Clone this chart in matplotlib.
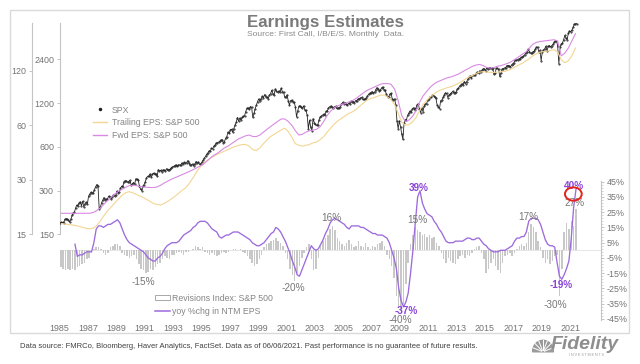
import numpy as np
import matplotlib
matplotlib.use("Agg")
import matplotlib.pyplot as plt
from matplotlib.lines import Line2D
from matplotlib.patches import Rectangle, Ellipse, Patch, Wedge
from matplotlib.ticker import FixedLocator, NullLocator
from matplotlib import font_manager

plt.rcParams['font.family'] = ['Liberation Sans', 'DejaVu Sans']

# ---------------- data ----------------
# S&P 500 monthly level, Jan 1985 .. Jun 2021
spx = [
    180, 181, 181, 180, 190, 192, 191, 188, 182, 190, 202, 211,          # 1985
    212, 227, 238, 236, 247, 251, 236, 253, 231, 244, 249, 242,          # 1986
    274, 284, 291, 288, 290, 304, 319, 330, 322, 225, 230, 247,          # 1987
    257, 268, 259, 261, 262, 274, 272, 262, 272, 279, 274, 278,          # 1988
    297, 289, 295, 310, 321, 318, 346, 351, 349, 341, 346, 353,          # 1989
    329, 332, 340, 331, 361, 358, 356, 323, 306, 300, 322, 330,          # 1990
    344, 367, 375, 375, 390, 371, 388, 395, 388, 392, 375, 417,          # 1991
    409, 413, 404, 415, 415, 408, 424, 414, 418, 419, 431, 436,          # 1992
    439, 443, 452, 440, 450, 451, 448, 464, 459, 468, 462, 466,          # 1993
    482, 467, 446, 451, 457, 444, 458, 475, 463, 472, 454, 459,          # 1994
    470, 487, 501, 515, 533, 545, 562, 562, 584, 582, 605, 616,          # 1995
    636, 640, 646, 654, 669, 671, 640, 652, 687, 705, 757, 741,          # 1996
    786, 791, 757, 801, 848, 885, 954, 899, 947, 915, 955, 970,          # 1997
    980, 1049, 1102, 1112, 1091, 1134, 1121, 957, 1017, 1099, 1164, 1229,  # 1998
    1280, 1238, 1286, 1335, 1302, 1373, 1329, 1320, 1283, 1363, 1389, 1469,  # 1999
    1394, 1366, 1499, 1452, 1421, 1455, 1431, 1518, 1437, 1429, 1315, 1320,  # 2000
    1366, 1240, 1160, 1249, 1256, 1224, 1211, 1134, 966, 1060, 1139, 1148,   # 2001
    1130, 1107, 1147, 1077, 1067, 990, 797, 916, 815, 776, 936, 880,         # 2002
    856, 841, 848, 917, 964, 975, 990, 1008, 996, 1051, 1058, 1112,          # 2003
    1131, 1145, 1126, 1107, 1121, 1141, 1102, 1104, 1115, 1130, 1174, 1212,  # 2004
    1181, 1204, 1181, 1157, 1192, 1191, 1234, 1220, 1229, 1207, 1249, 1248,  # 2005
    1280, 1281, 1295, 1311, 1270, 1270, 1277, 1304, 1336, 1378, 1401, 1418,  # 2006
    1438, 1407, 1421, 1482, 1531, 1503, 1455, 1474, 1527, 1549, 1481, 1468,  # 2007
    1379, 1331, 1323, 1386, 1400, 1280, 1267, 1283, 1165, 900, 800, 903,     # 2008
    826, 735, 676, 873, 919, 919, 987, 1021, 1057, 1036, 1096, 1115,         # 2009
    1074, 1104, 1169, 1187, 1089, 1031, 1102, 1049, 1141, 1183, 1181, 1258,  # 2010
    1286, 1327, 1326, 1364, 1345, 1321, 1292, 1160, 1131, 1099, 1247, 1258,  # 2011
    1312, 1366, 1408, 1398, 1310, 1362, 1379, 1407, 1441, 1412, 1416, 1426,  # 2012
    1498, 1515, 1569, 1598, 1631, 1606, 1686, 1633, 1682, 1757, 1806, 1848,  # 2013
    1783, 1859, 1872, 1884, 1924, 1960, 1931, 2003, 1972, 2018, 2068, 2059,  # 2014
    1995, 2105, 2068, 2086, 2107, 2063, 2104, 1893, 1920, 2079, 2080, 2044,  # 2015
    1829, 1932, 2060, 2065, 2097, 2099, 2174, 2171, 2168, 2126, 2199, 2239,  # 2016
    2279, 2364, 2363, 2384, 2412, 2423, 2470, 2472, 2519, 2575, 2648, 2674,  # 2017
    2824, 2714, 2641, 2648, 2705, 2718, 2816, 2902, 2914, 2712, 2760, 2351,  # 2018
    2704, 2784, 2834, 2946, 2752, 2942, 2980, 2926, 2977, 3038, 3141, 3231,  # 2019
    3226, 2954, 2237, 2912, 3044, 3100, 3271, 3500, 3363, 3270, 3622, 3756,  # 2020
    3714, 3811, 3973, 4181, 4204, 4230,                                      # 2021
]

# Trailing EPS (quarterly, 1985Q1 .. 2021Q2)
trailing_eps = [
    17.2, 17.1, 17.0, 16.9,  16.8, 16.6, 16.4, 16.2,  16.1, 16.2, 16.8, 17.8,
    19.0, 20.2, 21.2, 22.3,  23.4, 24.5, 25.4, 25.8,  25.5, 25.0, 24.5, 24.0,
    23.4, 22.8, 22.2, 21.9,  21.8, 22.2, 22.8, 23.5,  24.3, 25.2, 26.2, 27.0,
    28.5, 30.5, 32.8, 35.0,  36.8, 38.2, 39.5, 40.5,  41.5, 42.3, 43.2, 44.0,
    45.0, 45.8, 46.5, 47.0,  47.0, 46.0, 44.0, 43.5,  45.0, 47.5, 49.8, 52.0,
    53.5, 55.0, 56.5, 57.8,  55.5, 51.5, 47.5, 46.5,  46.0, 46.5, 47.0, 48.0,
    48.5, 50.0, 52.0, 55.0,  58.0, 61.0, 63.5, 65.5,  67.5, 69.5, 71.0, 73.0,
    76.0, 79.0, 82.0, 84.0,  85.0, 86.5, 88.0, 88.0,  86.0, 83.0, 78.0, 70.0,
    62.5, 60.0, 60.5, 62.5,  66.0, 72.0, 78.0, 82.0,  86.0, 89.0, 92.0, 94.0,
    95.5, 97.0, 98.0, 100.0, 102.0, 105.0, 108.0, 111.0, 113.0, 116.0, 118.0, 118.5,
    118.0, 117.5, 117.5, 118.0, 118.5, 119.0, 120.5, 123.0, 126.0, 129.0, 132.0, 136.0,
    140.0, 145.0, 149.0, 152.0, 153.0, 154.0, 155.0, 157.0, 152.0, 138.0, 133.0, 136.0,
    145.0, 160.0,
]

# Forward EPS (quarterly, 1985Q1 .. 2021Q2)
forward_eps = [
    19.6, 19.6, 19.6, 19.6,  19.6, 19.6, 19.6, 19.6,  19.6, 19.8, 20.3, 21.0,
    22.0, 23.0, 24.0, 25.0,  25.8, 26.5, 27.2, 27.8,  28.0, 27.9, 27.6, 27.4,
    27.3, 27.2, 27.2, 27.4,  28.0, 28.8, 29.5, 30.2,  30.8, 31.4, 32.0, 32.6,
    33.3, 34.0, 34.8, 35.6,  36.5, 38.0, 39.5, 41.0,  42.0, 43.5, 45.0, 46.0,
    47.5, 49.0, 50.5, 51.5,  52.5, 53.0, 52.0, 52.0,  53.0, 55.0, 57.0, 59.0,
    61.0, 63.0, 65.0, 65.0,  63.0, 60.0, 56.0, 53.0,  53.5, 55.0, 56.0, 56.5,
    57.0, 59.0, 63.0, 68.0,  72.0, 75.0, 77.0, 78.0,  79.0, 80.5, 82.0, 84.0,
    87.0, 90.0, 93.0, 95.0,  97.0, 99.0, 101.0, 102.0, 102.0, 101.0, 95.0, 82.0,
    68.0, 63.0, 64.0, 67.0,  72.0, 80.0, 87.0, 92.0,  97.0, 101.0, 104.0, 106.0,
    108.0, 110.0, 111.0, 113.0, 115.0, 118.0, 121.0, 124.0, 127.0, 129.0, 130.0, 128.0,
    125.0, 124.0, 125.0, 127.0, 128.0, 130.0, 132.0, 135.0, 139.0, 143.0, 148.0, 152.0,
    160.0, 168.0, 172.0, 174.0, 175.0, 176.0, 177.0, 178.0, 175.0, 145.0, 150.0, 160.0,
    175.0, 192.0,
]

# Revisions index S&P 500 (%), two-month steps, 1985 .. mid 2021
revisions = [
    -11, -12, -13, -12, -13, -12,   -13, -11, -10, -9, -8, -6,
    -5, -2, 1, 2, 2, 1,             -2, -3, -2, 2, 3, 4,
    4, 3, -2, -3, -4, -5,           -4, -3, -6, -9, -12, -13,
    -15, -14, -12, -13, -11, -9,    -8, -6, -4, -5, -6, -3,
    -3, -2, -1, -2, -3, -1,         -1, 0, 1, 3, 2, 1,
    2, -1, -2, -3, -2, -3,          -4, -3, -2, -1, -2, -1,
    0, 1, 1, 0, 1, -1,              -2, -4, -6, -8, -10, -9,
    -6, -3, 2, 4, 5, 6,             7, 8, 6, 5, 3, -2,
    -6, -12, -16, -20, -15, -10,    -5, -2, 2, 4, -6, -13,
    -12, -5, 3, 6, 8, 10,           14, 16, 13, 8, 6, 4,
    3, 5, 7, 4, 2, 3,               6, 3, 2, 5, 2, 1,
    3, 2, 4, 5, 6, 3,               -3, -6, -10, -18, -30, -38,
    -40, -35, -22, -8, 4, 10,       15, 13, 12, 10, 11, 9,
    10, 8, 9, 5, 3, -2,             -6, -8, -5, -7, -8, -9,
    -6, -4, -3, -5, -3, -4,         -2, 1, 2, 3, -2, -6,
    -15, -12, -8, -6, -10, -13,     -15, -8, -4, -3, -2, -4,
    -2, 1, 3, 4, 3, 5,              12, 17, 15, 12, 6, 2,
    -5, -8, -6, -9, -7, -4,         -3, -30, -12, 12, 18, 14,
    19, 16, 27,
]

# yoy % chg in NTM EPS, two-month steps, 1986 .. mid 2021
yoy_ntm = [
    4, -4, -3, -3, -2, -1,          -1, -1, 5, 14, 16, 16,
    15, 16, 17, 17, 18, 19,         20, 18, 14, 10, 7, 5,
    4, 3, 2, 1, 0, -1,              -3, -5, -6, -7, -7, -5,
    -4, -2, 1, 3, 4, 5,             5, 5, 6, 8, 10, 11,
    12, 13, 15, 16, 18, 19,         19, 19, 18, 16, 14, 13,
    12, 9, 8, 9, 10, 10,            11, 12, 12, 12, 11, 10,
    9, 8, 7, 5, 4, 3,               3, 4, 5, 7, 9, 11,
    12, 15, 14, 12, 9, 6,           2, -2, -7, -11, -16, -17,
    -13, -9, -5, -1, 3, 1,          0, 1, 4, 7, 11, 14,
    18, 20, 21, 20, 19, 18,         17, 15, 14, 16, 16, 16,
    16, 15, 15, 14, 13, 12,         11, 11, 10, 10, 10, 9,
    8, 5, 0, -5, -12, -25,          -33, -37, -34, -28, -15, 0,
    18, 35, 39, 31, 27, 24,         23, 22, 19, 17, 14, 12,
    9, 6, 5, 5, 5, 6,               6, 6, 6, 7, 8, 8,
    7, 7, 8, 8, 6, 4,               3, 1, 0, -1, -1, -1,
    0, 0, 0, 1, 2, 3,               6, 8, 8, 9, 9, 12,
    19, 21, 21, 21, 20, 17,         12, 7, 4, 3, 3, 2,
    -8, -17, -19, -16, -12, -7,     8, 28, 40,
]

year_ticks = list(range(1985, 2022, 2))
spx_ticks = [150, 300, 600, 1200, 2400]
eps_ticks = [15, 30, 60, 120]
pct_ticks = [-45, -35, -25, -15, -5, 5, 15, 25, 35, 45]

# annotation labels: (year, pct, text, kind)
notes = [
    (1990.9, -20.6, "-15%", "g"), (2001.5, -24.9, "-20%", "g"),
    (2004.2, 21.0, "16%", "g"), (2009.0, -45.5, "-40%", "g"),
    (2009.45, -39.8, "-37%", "p"), (2010.35, 40.6, "39%", "p"),
    (2010.25, 19.9, "15%", "g"), (2018.05, 21.6, "17%", "g"),
    (2020.4, -22.7, "-19%", "p"), (2019.96, -35.9, "-30%", "g"),
    (2021.25, 41.9, "40%", "p"), (2021.3, 30.8, "27%", "g"),
]

# dates (decimal years)
spx_x = 1985 + (np.arange(len(spx)) + 0.5) / 12
eps_x = 1985 + (np.arange(len(trailing_eps)) + 0.5) / 4
rev_x = 1985 + (np.arange(len(revisions)) + 0.5) / 6
yoy_x = 1986 + (np.arange(len(yoy_ntm)) + 0.5) / 6

# ---------------- figure ----------------
W, H = 640, 364
fig = plt.figure(figsize=(W / 100, H / 100), dpi=100)
fig.patch.set_facecolor("white")

def fx(p):
    return p / W

def fy(p):
    return 1 - p / H

L, R, T, B = 59.6, 601.0, 23.0, 320.0
ax = fig.add_axes([fx(L), fy(B), fx(R) - fx(L), fy(T) - fy(B)])
ax.patch.set_alpha(0)
ax_eps = ax.twinx()
ax_pct = ax.twinx()

GRAYTXT = "#737373"
SPINE = "#c4c4c4"
PURPLE = "#9d6bdc"
FWD = "#d98ae4"
TRAIL = "#f3d692"

# SPX (log)
ax.plot(spx_x, spx, color="#262626", lw=0.6, marker=".", ms=1.0, zorder=3)
ax.set_yscale("log")
ax.set_ylim(38.55, 4266)
ax.set_xlim(1985.0, 2023.18)
ax.yaxis.set_major_locator(FixedLocator(spx_ticks))
ax.yaxis.set_minor_locator(NullLocator())
ax.set_yticklabels([str(t) for t in spx_ticks])
for s in ("top", "right", "bottom"):
    ax.spines[s].set_visible(False)
ax.spines["left"].set_color(SPINE)
ax.spines["left"].set_linewidth(0.8)
ax.spines["left"].set_bounds(150, 4266)
ax.tick_params(axis="y", length=2.5, width=0.7, color=SPINE, labelcolor=GRAYTXT,
               labelsize=6.4, pad=1.5)
ax.set_xticks(year_ticks)
ax.set_xticklabels([str(y) for y in year_ticks])
ax.tick_params(axis="x", length=0, labelcolor=GRAYTXT, labelsize=6.4, pad=2.8)

# EPS (log), spine moved left
ax_eps.plot(eps_x, trailing_eps, color=TRAIL, lw=0.8, zorder=2)
ax_eps.plot(eps_x, forward_eps, color=FWD, lw=0.8, zorder=2)
ax_eps.set_yscale("log")
ax_eps.set_ylim(5.05, 220.1)
ax_eps.yaxis.set_ticks_position("left")
ax_eps.yaxis.set_label_position("left")
ax_eps.yaxis.set_major_locator(FixedLocator(eps_ticks))
ax_eps.yaxis.set_minor_locator(NullLocator())
ax_eps.set_yticklabels([str(t) for t in eps_ticks])
for s in ("top", "right", "bottom"):
    ax_eps.spines[s].set_visible(False)
ax_eps.spines["left"].set_visible(True)
ax_eps.spines["left"].set_position(("axes", -(L - 32.0) / (R - L)))
ax_eps.spines["left"].set_color(SPINE)
ax_eps.spines["left"].set_linewidth(0.8)
ax_eps.spines["left"].set_bounds(15, 220.1)
ax_eps.tick_params(axis="y", length=2.5, width=0.7, color=SPINE, labelcolor=GRAYTXT,
                   labelsize=6.4, pad=1.5)

# Percent axis (right)
ax_pct.bar(rev_x, revisions, width=0.105, color="#c8c8c8", edgecolor="none", zorder=1)
ax_pct.axhline(0, color="#e2e2e2", lw=0.6, zorder=0)
ax_pct.plot(yoy_x, yoy_ntm, color=PURPLE, lw=0.95, zorder=3)
ax_pct.set_ylim(-45.69, 149.0)
ax_pct.yaxis.set_major_locator(FixedLocator(pct_ticks))
ax_pct.yaxis.set_minor_locator(FixedLocator(list(range(-45, 46, 2))))
ax_pct.set_yticklabels([f"{t}%" for t in pct_ticks])
for s in ("top", "left", "bottom"):
    ax_pct.spines[s].set_visible(False)
ax_pct.spines["right"].set_color(SPINE)
ax_pct.spines["right"].set_linewidth(0.8)
ax_pct.spines["right"].set_bounds(-45.5, 45.5)
ax_pct.tick_params(axis="y", which="major", length=2.3, width=0.7, color=SPINE,
                   labelcolor=GRAYTXT, labelsize=6.4, pad=1.8)
ax_pct.tick_params(axis="y", which="minor", length=1.2, width=0.5, color=SPINE)

for (xv, yv, txt, kind) in notes:
    if kind == "p":
        ax_pct.text(xv, yv, txt, color="#8a44d8", fontsize=7.2, fontweight="bold",
                    ha="center", va="center", zorder=5)
    else:
        ax_pct.text(xv, yv, txt, color="#777777", fontsize=7.2,
                    ha="center", va="center", zorder=4)

ax_pct.add_patch(Ellipse((2021.23, 36.9), 1.18, 8.7, fill=False, ec="#e3231b",
                         lw=1.4, zorder=6))

# legends
leg1_handles = [
    Line2D([], [], ls="none", marker=".", color="#222222", ms=3),
    Line2D([], [], color=TRAIL, lw=1.0),
    Line2D([], [], color=FWD, lw=1.0),
]
fig.legend(leg1_handles, ["SPX", "Trailing EPS: S&P 500", "Fwd EPS: S&P 500"],
           loc="upper left", bbox_to_anchor=(fx(93), fy(105.5)), frameon=False,
           fontsize=6.3, handlelength=1.6, handletextpad=0.55, labelspacing=0.42,
           borderpad=0, borderaxespad=0, labelcolor="#858585")

leg2_handles = [
    Patch(facecolor="white", edgecolor="#9a9a9a", lw=0.6),
    Line2D([], [], color=PURPLE, lw=1.1),
]
fig.legend(leg2_handles, ["Revisions Index: S&P 500", "yoy %chg in NTM EPS"],
           loc="upper left", bbox_to_anchor=(fx(155), fy(293.8)), frameon=False,
           fontsize=6.3, handlelength=1.75, handleheight=0.5, handletextpad=0.25,
           labelspacing=0.45, borderpad=0, borderaxespad=0, labelcolor="#858585")

# titles
fig.text(fx(325.5), fy(22), "Earnings Estimates", ha="center", va="center",
         fontsize=12.2, fontweight="bold", color="#7a7a7a")
fig.text(fx(325.5), fy(34.5), "Source: First Call, I/B/E/S. Monthly  Data.",
         ha="center", va="center", fontsize=6.1, color="#8a8a8a")

# frame
fig.add_artist(Rectangle((fx(10), fy(333)), fx(629) - fx(10), fy(10) - fy(333),
                         transform=fig.transFigure, fill=False, ec="#dadada", lw=1.0))

# footer
names = {f.name for f in font_manager.fontManager.ttflist}
if "Liberation Sans Narrow" in names:
    foot_family, foot_size = "Liberation Sans Narrow", 6.6
else:
    foot_family, foot_size = "Liberation Sans", 5.5
fig.text(fx(20), fy(346.5),
         "Data source: FMRCo, Bloomberg, Haver Analytics, FactSet. Data as of 06/06/2021. "
         "Past performance is no guarantee of future results.",
         ha="left", va="center", fontsize=foot_size, family=foot_family, color="#404040")

# Fidelity logo
lax = fig.add_axes([fx(532), fy(354), fx(554) - fx(532), fy(337) - fy(354)])
lax.set_xlim(-1.1, 1.1)
lax.set_ylim(-0.2, 1.35)
lax.axis("off")
lax.add_patch(Wedge((0, 0), 1.05, 0, 180, width=0.55, color="#9a9a9a"))
lax.add_patch(Wedge((0, 0), 0.45, 0, 180, color="#9a9a9a"))
for ang in np.linspace(20, 160, 7):
    a = np.deg2rad(ang)
    lax.plot([0.15 * np.cos(a), 1.1 * np.cos(a)], [0.15 * np.sin(a), 1.1 * np.sin(a)],
             color="white", lw=0.7)
fig.text(fx(551), fy(344.5), "Fidelity", ha="left", va="center", fontsize=14,
         fontweight="bold", fontstyle="italic", color="#8e8e8e")
fig.text(fx(586), fy(354.5), "I N V E S T M E N T S", ha="center", va="center",
         fontsize=2.6, color="#9a9a9a")

fig.savefig("out.png", dpi=100, facecolor="white")
